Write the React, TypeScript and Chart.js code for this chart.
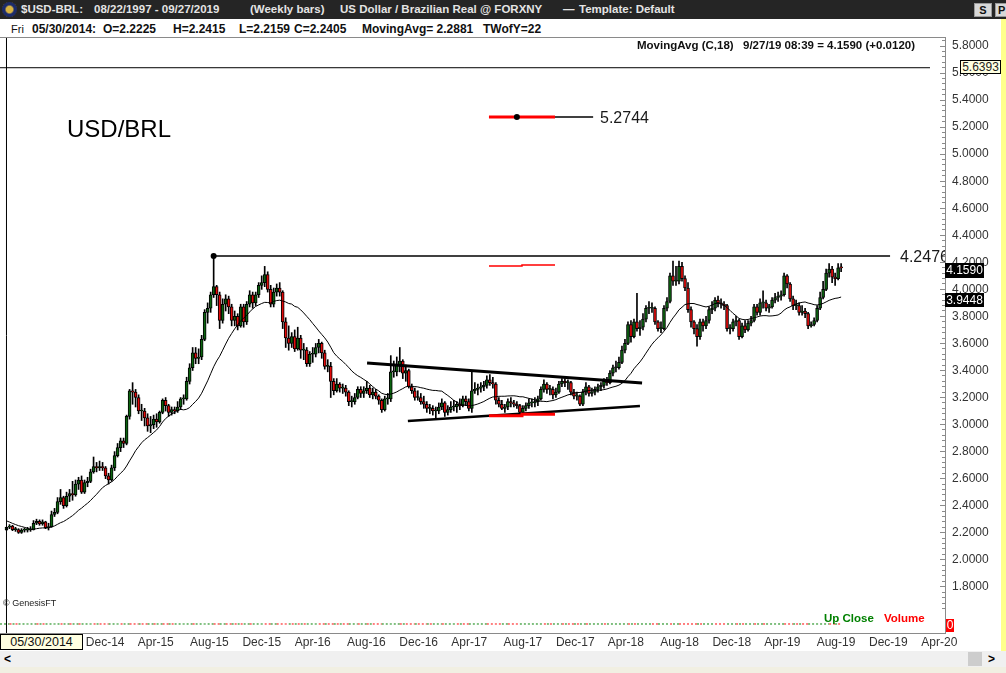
import React, { useEffect, useRef } from 'react';
import { Chart, registerables } from 'chart.js';

Chart.register(...registerables);

// ---------- Weekly bars, first bar = Fri 05/30/2014, last bar = Fri 09/27/2019 ----------
const OPEN = [
  2.2225, 2.2405, 2.2490, 2.2230, 2.2240, 2.2030, 2.2190, 2.2190, 2.2200, 2.2230,
  2.2700, 2.2850, 2.2650, 2.2800, 2.2380, 2.2450, 2.3350, 2.3500, 2.4300, 2.4600,
  2.4000, 2.4700, 2.4900, 2.4800, 2.5600, 2.5900, 2.5000, 2.5700, 2.5800, 2.6500,
  2.6900, 2.6800, 2.6900, 2.6800, 2.6200, 2.5900, 2.6800, 2.7700, 2.8300, 2.8800,
  2.8600, 3.0600, 3.2500, 3.2400, 3.2000, 3.1000, 3.1000, 3.0500, 2.9900, 3.0000,
  3.0400, 3.0200, 3.0900, 3.1800, 3.1400, 3.0900, 3.1100, 3.1000, 3.1300, 3.1900,
  3.1900, 3.3200, 3.4200, 3.5300, 3.4900, 3.5000, 3.6300, 3.8300, 3.8600, 3.9600,
  4.0200, 3.9600, 3.7700, 3.8900, 3.9300, 3.8700, 3.7700, 3.8000, 3.7300, 3.8700,
  3.7600, 3.8900, 3.9600, 3.9000, 3.9600, 4.0300, 4.0500, 4.1100, 4.0000, 3.8900,
  3.9800, 4.0100, 3.9800, 3.7600, 3.6400, 3.6000, 3.6500, 3.5600, 3.6400, 3.5500,
  3.5500, 3.4500, 3.5200, 3.5200, 3.5700, 3.6000, 3.5300, 3.4300, 3.4300, 3.3200,
  3.2500, 3.3000, 3.2700, 3.2700, 3.2400, 3.1700, 3.1700, 3.2000, 3.2600, 3.2300,
  3.2500, 3.2700, 3.2200, 3.2400, 3.2100, 3.1800, 3.1100, 3.1900, 3.1900, 3.3900,
  3.3900, 3.4400, 3.4700, 3.3800, 3.4000, 3.2800, 3.2500, 3.2000, 3.2000, 3.1700,
  3.1500, 3.1200, 3.1200, 3.1000, 3.1000, 3.1300, 3.1600, 3.0900, 3.1100, 3.1300,
  3.1300, 3.1500, 3.1400, 3.1900, 3.1700, 3.1200, 3.2500, 3.2600, 3.2700, 3.2800,
  3.2900, 3.3300, 3.3100, 3.3000, 3.1800, 3.1500, 3.1200, 3.1300, 3.1700, 3.1600,
  3.1500, 3.1400, 3.0900, 3.1200, 3.1400, 3.1600, 3.1600, 3.1700, 3.1900, 3.2600,
  3.3000, 3.2600, 3.2600, 3.2200, 3.2400, 3.3000, 3.3200, 3.3100, 3.3100, 3.2400,
  3.2100, 3.2100, 3.1500, 3.2400, 3.2800, 3.2300, 3.2400, 3.2600, 3.2800, 3.2900,
  3.3200, 3.3100, 3.3800, 3.4200, 3.4200, 3.4600, 3.5500, 3.6000, 3.7400, 3.6500,
  3.7600, 3.7100, 3.7200, 3.7800, 3.8600, 3.8600, 3.8600, 3.7600, 3.7100, 3.7100,
  3.8600, 3.9100, 4.1000, 4.0600, 4.0600, 4.1700, 4.0800, 4.0100, 3.8500, 3.7600,
  3.7100, 3.6500, 3.7600, 3.7300, 3.7700, 3.8500, 3.8600, 3.9200, 3.9000, 3.8900,
  3.8800, 3.7100, 3.7100, 3.7600, 3.7700, 3.6500, 3.7300, 3.7000, 3.7500, 3.7700,
  3.8700, 3.8300, 3.9000, 3.9000, 3.8600, 3.8700, 3.9200, 3.9400, 3.9500, 3.9600,
  4.1000, 4.0400, 3.9300, 3.8800, 3.8800, 3.8300, 3.8400, 3.8200, 3.7300, 3.7400,
  3.7700, 3.8600, 3.9400, 4.0000, 4.1200, 4.1500, 4.0900, 4.0800, 4.1600,
];

const HIGH = [
  2.2415, 2.2600, 2.2550, 2.2400, 2.2300, 2.2300, 2.2350, 2.2400, 2.2450, 2.2900,
  2.3000, 2.2950, 2.2950, 2.2850, 2.2700, 2.3600, 2.3800, 2.4600, 2.5200, 2.4700,
  2.5000, 2.5200, 2.5800, 2.5900, 2.6100, 2.6200, 2.5900, 2.6100, 2.6700, 2.7600,
  2.7200, 2.7300, 2.7200, 2.6900, 2.6400, 2.7000, 2.8000, 2.8600, 2.9000, 2.9000,
  3.0700, 3.2600, 3.3100, 3.2600, 3.2200, 3.1500, 3.1200, 3.0800, 3.0600, 3.0700,
  3.0800, 3.1000, 3.1900, 3.2000, 3.1500, 3.1300, 3.1300, 3.1700, 3.2000, 3.2200,
  3.3500, 3.4500, 3.5700, 3.5700, 3.5600, 3.6600, 3.8500, 3.9000, 3.9800, 4.2476,
  4.0300, 3.9800, 3.9300, 3.9600, 3.9500, 3.8900, 3.8400, 3.8200, 3.8900, 3.8900,
  3.9100, 3.9900, 3.9800, 3.9800, 4.0500, 4.1000, 4.1700, 4.1300, 4.0300, 4.0100,
  4.0400, 4.0500, 3.9900, 3.7900, 3.7300, 3.6800, 3.7000, 3.7200, 3.6600, 3.6000,
  3.5700, 3.5400, 3.5700, 3.6000, 3.6300, 3.6100, 3.5500, 3.4800, 3.4600, 3.3400,
  3.3400, 3.3100, 3.3000, 3.2900, 3.2500, 3.2100, 3.2300, 3.2800, 3.2800, 3.2800,
  3.3200, 3.2900, 3.2700, 3.2600, 3.2200, 3.1900, 3.2100, 3.2300, 3.5100, 3.4700,
  3.5000, 3.5700, 3.4800, 3.4400, 3.4100, 3.3000, 3.2700, 3.2500, 3.2300, 3.2100,
  3.1700, 3.1500, 3.1400, 3.1300, 3.1600, 3.1900, 3.1700, 3.1400, 3.1700, 3.1800,
  3.1700, 3.1900, 3.2100, 3.2100, 3.1900, 3.4000, 3.3100, 3.3000, 3.3100, 3.3200,
  3.3600, 3.3700, 3.3500, 3.3100, 3.2000, 3.1800, 3.1500, 3.1900, 3.2000, 3.1800,
  3.1700, 3.1500, 3.1400, 3.1600, 3.1900, 3.1900, 3.2000, 3.2100, 3.2800, 3.3300,
  3.3100, 3.2900, 3.2800, 3.2700, 3.3200, 3.3400, 3.3400, 3.3300, 3.3200, 3.2600,
  3.2400, 3.2200, 3.2600, 3.3100, 3.2900, 3.2700, 3.2800, 3.3000, 3.3100, 3.3400,
  3.3500, 3.4000, 3.4400, 3.4700, 3.5000, 3.5800, 3.6300, 3.7600, 3.7700, 3.7800,
  3.9700, 3.7700, 3.8200, 3.8800, 3.9100, 3.9000, 3.8700, 3.7700, 3.7600, 3.8800,
  3.9400, 4.1200, 4.2100, 4.1700, 4.2100, 4.2000, 4.1000, 4.0500, 3.8700, 3.7700,
  3.7400, 3.7800, 3.7800, 3.8000, 3.8700, 3.9100, 3.9400, 3.9500, 3.9300, 3.9100,
  3.8900, 3.7400, 3.7800, 3.8000, 3.7800, 3.7500, 3.7700, 3.7700, 3.8000, 3.8900,
  3.8900, 3.9300, 3.9900, 3.9200, 3.8900, 3.9400, 3.9700, 3.9800, 3.9900, 4.1200,
  4.1100, 4.0500, 3.9500, 3.9200, 3.9000, 3.8800, 3.8600, 3.8300, 3.7600, 3.7900,
  3.8800, 3.9800, 4.0600, 4.1500, 4.1900, 4.1700, 4.1200, 4.1900, 4.1900,
];

const LOW = [
  2.2159, 2.2300, 2.2150, 2.2100, 2.1950, 2.1950, 2.2050, 2.2050, 2.2100, 2.2200,
  2.2600, 2.2550, 2.2550, 2.2300, 2.2200, 2.2400, 2.3200, 2.3400, 2.4100, 2.3800,
  2.3900, 2.4300, 2.4400, 2.4700, 2.5200, 2.4900, 2.4900, 2.5400, 2.5700, 2.6400,
  2.6500, 2.6600, 2.6600, 2.6000, 2.5600, 2.5800, 2.6600, 2.7600, 2.8000, 2.8300,
  2.8500, 3.0400, 3.1500, 3.1300, 3.0800, 3.0300, 2.9900, 2.9500, 2.9400, 2.9700,
  2.9800, 3.0100, 3.0800, 3.1000, 3.0600, 3.0700, 3.0800, 3.0900, 3.1100, 3.1500,
  3.1800, 3.3000, 3.4000, 3.4500, 3.4500, 3.4800, 3.6200, 3.7500, 3.8300, 3.9400,
  3.8800, 3.7100, 3.7500, 3.8400, 3.8200, 3.7300, 3.7300, 3.7000, 3.7200, 3.7200,
  3.7400, 3.8700, 3.8600, 3.8800, 3.9400, 4.0000, 4.0200, 3.9800, 3.8700, 3.8700,
  3.9500, 3.9500, 3.7100, 3.5700, 3.5500, 3.5700, 3.5400, 3.5500, 3.4900, 3.4800,
  3.4300, 3.4300, 3.4600, 3.5000, 3.5300, 3.4900, 3.4100, 3.3900, 3.2000, 3.2200,
  3.2400, 3.2400, 3.2300, 3.2100, 3.1400, 3.1300, 3.1500, 3.1900, 3.2000, 3.2000,
  3.2300, 3.2000, 3.1900, 3.1900, 3.1500, 3.0900, 3.1000, 3.1500, 3.1700, 3.3500,
  3.3600, 3.3900, 3.3400, 3.3200, 3.2700, 3.2300, 3.1800, 3.1800, 3.1500, 3.1200,
  3.0900, 3.0800, 3.0700, 3.0500, 3.0800, 3.1100, 3.0600, 3.0700, 3.0900, 3.1000,
  3.0900, 3.1100, 3.1300, 3.1400, 3.1000, 3.0900, 3.2300, 3.2200, 3.2400, 3.2500,
  3.2700, 3.2900, 3.2700, 3.1500, 3.1300, 3.1100, 3.0900, 3.1100, 3.1300, 3.1300,
  3.1200, 3.0600, 3.0800, 3.1000, 3.1200, 3.1300, 3.1300, 3.1400, 3.1800, 3.2400,
  3.2300, 3.2200, 3.1900, 3.2000, 3.2300, 3.2800, 3.2800, 3.2600, 3.2200, 3.1900,
  3.1800, 3.1400, 3.1400, 3.2200, 3.2100, 3.2100, 3.2200, 3.2400, 3.2500, 3.2700,
  3.2900, 3.3000, 3.3600, 3.3900, 3.4100, 3.4500, 3.5300, 3.5900, 3.6100, 3.6400,
  3.6900, 3.6600, 3.7000, 3.7600, 3.8200, 3.8300, 3.7400, 3.6900, 3.6800, 3.7000,
  3.8400, 3.9000, 4.0300, 4.0300, 4.0400, 4.0600, 3.9900, 3.8300, 3.7200, 3.6700,
  3.5800, 3.6300, 3.6900, 3.7100, 3.7500, 3.8200, 3.8400, 3.8700, 3.8600, 3.8500,
  3.6900, 3.6700, 3.6900, 3.7300, 3.6300, 3.6400, 3.6800, 3.6900, 3.7300, 3.7600,
  3.8100, 3.8100, 3.8600, 3.8400, 3.8300, 3.8600, 3.9000, 3.9100, 3.9200, 3.9500,
  4.0100, 3.9100, 3.8500, 3.8500, 3.8100, 3.8100, 3.7900, 3.7100, 3.7200, 3.7300,
  3.7600, 3.8500, 3.9300, 3.9900, 4.0900, 4.0500, 4.0300, 4.0700, 4.1300,
];

const CLOSE = [
  2.2405, 2.2490, 2.2230, 2.2240, 2.2030, 2.2190, 2.2190, 2.2200, 2.2230, 2.2700,
  2.2850, 2.2650, 2.2800, 2.2380, 2.2450, 2.3350, 2.3500, 2.4300, 2.4600, 2.4000,
  2.4700, 2.4900, 2.4800, 2.5600, 2.5900, 2.5000, 2.5700, 2.5800, 2.6500, 2.6900,
  2.6800, 2.6900, 2.6800, 2.6200, 2.5900, 2.6800, 2.7700, 2.8300, 2.8800, 2.8600,
  3.0600, 3.2500, 3.2400, 3.2000, 3.1000, 3.1000, 3.0500, 2.9900, 3.0000, 3.0400,
  3.0200, 3.0900, 3.1800, 3.1400, 3.0900, 3.1100, 3.1000, 3.1300, 3.1900, 3.1900,
  3.3200, 3.4200, 3.5300, 3.4900, 3.5000, 3.6300, 3.8300, 3.8600, 3.9600, 4.0200,
  3.9600, 3.7700, 3.8900, 3.9300, 3.8700, 3.7700, 3.8000, 3.7300, 3.8700, 3.7600,
  3.8900, 3.9600, 3.9000, 3.9600, 4.0300, 4.0500, 4.1100, 4.0000, 3.8900, 3.9800,
  4.0100, 3.9800, 3.7600, 3.6400, 3.6000, 3.6500, 3.5600, 3.6400, 3.5500, 3.5500,
  3.4500, 3.5200, 3.5200, 3.5700, 3.6000, 3.5300, 3.4300, 3.4300, 3.3200, 3.2500,
  3.3000, 3.2700, 3.2700, 3.2400, 3.1700, 3.1700, 3.2000, 3.2600, 3.2300, 3.2500,
  3.2700, 3.2200, 3.2400, 3.2100, 3.1800, 3.1100, 3.1900, 3.1900, 3.3900, 3.3900,
  3.4400, 3.4700, 3.3800, 3.4000, 3.2800, 3.2500, 3.2000, 3.2000, 3.1700, 3.1500,
  3.1200, 3.1200, 3.1000, 3.1000, 3.1300, 3.1600, 3.0900, 3.1100, 3.1300, 3.1300,
  3.1500, 3.1400, 3.1900, 3.1700, 3.1200, 3.2500, 3.2600, 3.2700, 3.2800, 3.2900,
  3.3300, 3.3100, 3.3000, 3.1800, 3.1500, 3.1200, 3.1300, 3.1700, 3.1600, 3.1500,
  3.1400, 3.0900, 3.1200, 3.1400, 3.1600, 3.1600, 3.1700, 3.1900, 3.2600, 3.3000,
  3.2600, 3.2600, 3.2200, 3.2400, 3.3000, 3.3200, 3.3100, 3.3100, 3.2400, 3.2100,
  3.2100, 3.1500, 3.2400, 3.2800, 3.2300, 3.2400, 3.2600, 3.2800, 3.2900, 3.3200,
  3.3100, 3.3800, 3.4200, 3.4200, 3.4600, 3.5500, 3.6000, 3.7400, 3.6500, 3.7600,
  3.7100, 3.7200, 3.7800, 3.8600, 3.8600, 3.8600, 3.7600, 3.7100, 3.7100, 3.8600,
  3.9100, 4.1000, 4.0600, 4.0600, 4.1700, 4.0800, 4.0100, 3.8500, 3.7600, 3.7100,
  3.6500, 3.7600, 3.7300, 3.7700, 3.8500, 3.8600, 3.9200, 3.9000, 3.8900, 3.8800,
  3.7100, 3.7100, 3.7600, 3.7700, 3.6500, 3.7300, 3.7000, 3.7500, 3.7700, 3.8700,
  3.8300, 3.9000, 3.9000, 3.8600, 3.8700, 3.9200, 3.9400, 3.9500, 3.9600, 4.1000,
  4.0400, 3.9300, 3.8800, 3.8800, 3.8300, 3.8400, 3.8200, 3.7300, 3.7400, 3.7700,
  3.8600, 3.9400, 4.0000, 4.1200, 4.1500, 4.0900, 4.0800, 4.1600, 4.1590,
];

// 17 weekly closes before the first visible bar (needed by MovingAvg(C,18))
const PRE_CLOSES = [
  2.4100, 2.4000, 2.3800, 2.3500, 2.3300, 2.3300, 2.3600, 2.3200, 2.2700,
  2.2300, 2.2000, 2.2400, 2.2400, 2.2300, 2.2200, 2.2100, 2.2200,
];
const MA_PERIOD = 18;
const VOLUME_LEVEL = 0; // volume panel reads 0 for every bar

// drawn objects, [week index, price]
const PEAK_LINE = [[69, 4.2476], [294.3, 4.2476]];
const TARGET_BLACK = [[170, 5.2744], [195.4, 5.2744]];
const TARGET_RED = [[160.7, 5.2744], [182.7, 5.2744]];
const TARGET_DOT = [[170, 5.2744]];
const RED_UPPER = [[160.7, 4.173], [171.7, 4.173], [171.7, 4.180], [182.7, 4.180]];
const RED_LOWER = [[160.7, 3.066], [171.7, 3.066], [171.7, 3.076], [182.7, 3.076]];
const TRI_UPPER = [[120.1, 3.455], [211.7, 3.307]];
const TRI_LOWER = [[133.7, 3.026], [211.0, 3.137]];
const CURSOR_PRICE = 5.6393;
const CURSOR_WEEK = 0;
const CURSOR_LINE_END = 307.6;

// axes
const X_MIN = -2.165;
const X_MAX = 312.6;
const Y_MIN = 1.4583;
const Y_MAX = 5.8592;
const X_TICK_LABELS = ['Dec-14', 'Apr-15', 'Aug-15', 'Dec-15', 'Apr-16', 'Aug-16', 'Dec-16', 'Apr-17', 'Aug-17', 'Dec-17', 'Apr-18', 'Aug-18', 'Dec-18', 'Apr-19', 'Aug-19', 'Dec-19', 'Apr-20'];
const Y_TICK_LABELS = ['1.8000', '2.0000', '2.2000', '2.4000', '2.6000', '2.8000', '3.0000', '3.2000', '3.4000', '3.6000', '3.8000', '4.0000', '4.2000', '4.4000', '4.6000', '4.8000', '5.0000', '5.2000', '5.4000', '5.6000', '5.8000'];
const Y_MINOR_STEP = 0.04;
const Y_MINOR_FROM = 1.64;

const MONTHS = ['Jan', 'Feb', 'Mar', 'Apr', 'May', 'Jun', 'Jul', 'Aug', 'Sep', 'Oct', 'Nov', 'Dec'];
const FIRST_BAR_UTC = Date.UTC(2014, 4, 30);
const WEEK_MS = 7 * 86400000;
const labelToWeek = (s: string) => {
  const [m, y] = s.split('-');
  return (Date.UTC(2000 + Number(y), MONTHS.indexOf(m), 1) - FIRST_BAR_UTC) / WEEK_MS;
};

const FONT = "'Liberation Sans', Arial, Helvetica, sans-serif";
const UP = '#0b630f';
const DOWN = '#e20a0a';

export default function App() {
  const ref = useRef<HTMLCanvasElement | null>(null);

  useEffect(() => {
    document.body.style.margin = '0';
    const canvas = ref.current;
    if (!canvas) return;

    const all = [...PRE_CLOSES, ...CLOSE];
    const ma = CLOSE.map((_, i) => {
      let s = 0;
      for (let k = 0; k < MA_PERIOD; k++) s += all[i + PRE_CLOSES.length - k];
      return { x: i, y: s / MA_PERIOD };
    });
    const pts = (a: number[][]) => a.map(([x, y]) => ({ x, y }));
    const isUp = (i: number) => CLOSE[i] >= OPEN[i];
    const line = (data: any[], color: string, width: number, extra: any = {}) => ({
      type: 'line', data, borderColor: color, borderWidth: width, pointRadius: 0,
      tension: 0, fill: false, xAxisID: 'x', yAxisID: 'y', order: 0, ...extra,
    });

    const volData = [{ x: X_MIN, y: VOLUME_LEVEL }, ...CLOSE.map((_, i) => ({ x: i, y: VOLUME_LEVEL }))];

    const chart = new Chart(canvas, {
      type: 'bar',
      data: {
        datasets: [
          line([{ x: X_MIN, y: CURSOR_PRICE }, { x: CURSOR_LINE_END, y: CURSOR_PRICE }], '#000', 1),
          line([{ x: CURSOR_WEEK, y: Y_MIN }, { x: CURSOR_WEEK, y: Y_MAX }], '#000', 1),
          line(pts(TARGET_DOT), '#000', 1, { pointRadius: 3, pointBackgroundColor: '#000', pointBorderWidth: 0, showLine: false }),
          line(pts(TARGET_RED), '#ff0000', 3),
          line(pts(TARGET_BLACK), '#000', 1.5),
          line(pts(PEAK_LINE), '#000', 1.5, { pointRadius: [3, 0], pointBackgroundColor: '#000', pointBorderWidth: 0 }),
          line(pts(RED_UPPER), '#ff0000', 1.5),
          line(pts(RED_LOWER), '#ff0000', 3),
          line(pts(TRI_UPPER), '#000', 3),
          line(pts(TRI_LOWER), '#000', 2.5),
          line(ma, '#000', 1, { order: 1 }),
          {
            type: 'bar', order: 2, grouped: false, xAxisID: 'x', yAxisID: 'y',
            data: CLOSE.map((c, i) => ({ x: i, y: [OPEN[i], c] })),
            backgroundColor: CLOSE.map((_, i) => (isUp(i) ? UP : DOWN)),
            borderColor: '#000', borderWidth: 1, borderSkipped: false,
            barThickness: 3, minBarLength: 1,
          },
          {
            type: 'bar', order: 3, grouped: false, xAxisID: 'x', yAxisID: 'y',
            data: CLOSE.map((_, i) => ({ x: i, y: [LOW[i], HIGH[i]] })),
            backgroundColor: '#000', borderWidth: 0, barThickness: 1,
          },
          {
            type: 'line', order: 4, xAxisID: 'x', yAxisID: 'yVol', data: volData,
            borderWidth: 1, borderDash: [2, 2], pointRadius: 0, tension: 0,
            borderColor: UP,
            segment: { borderColor: (ctx: any) => (isUp(Math.max(0, ctx.p1DataIndex - 1)) ? '#008000' : '#ff0000') },
          },
        ] as any,
      },
      options: {
        animation: false,
        responsive: false,
        maintainAspectRatio: false,
        layout: { padding: 0, autoPadding: false },
        events: [],
        plugins: { legend: { display: false }, tooltip: { enabled: false }, title: { display: false } },
        scales: {
          x: {
            type: 'linear', position: 'bottom', min: X_MIN, max: X_MAX, offset: false, bounds: 'data',
            grid: { display: false, drawTicks: false, tickLength: 0 },
            border: { display: true, color: '#8a8a8a', width: 1 },
            ticks: {
              autoSkip: false, maxRotation: 0, minRotation: 0, align: 'start', padding: 2,
              color: '#333333', font: { family: FONT, size: 12 },
              callback: (_v: any, i: number) => X_TICK_LABELS[i],
            },
            afterBuildTicks: (s: any) => { s.ticks = X_TICK_LABELS.map((l) => ({ value: labelToWeek(l) })); },
            afterFit: (s: any) => { s.height = 20; s.paddingLeft = 0; s.paddingRight = 0; },
          },
          yMinor: {
            type: 'linear', position: 'right', weight: 0, min: Y_MIN, max: Y_MAX, bounds: 'data',
            grid: { display: true, drawOnChartArea: false, drawTicks: true, tickLength: -3, tickColor: '#8a8a8a', tickWidth: 1 },
            border: { display: true, color: '#8a8a8a', width: 1 },
            ticks: { display: false },
            afterBuildTicks: (s: any) => {
              const t: any[] = [];
              for (let v = Y_MINOR_FROM; v < Y_MAX; v += Y_MINOR_STEP) t.push({ value: v });
              s.ticks = t;
            },
            afterFit: (s: any) => { s.width = 0; s.paddingTop = 0; s.paddingBottom = 0; },
          },
          y: {
            type: 'linear', position: 'right', weight: 1, min: Y_MIN, max: Y_MAX, bounds: 'data',
            grid: { display: true, drawOnChartArea: false, drawTicks: true, tickLength: -5, tickColor: '#8a8a8a', tickWidth: 1 },
            border: { display: true, color: '#8a8a8a', width: 1 },
            ticks: {
              autoSkip: false, padding: 12, color: '#333333', font: { family: FONT, size: 12 },
              callback: (_v: any, i: number) => Y_TICK_LABELS[i],
            },
            afterBuildTicks: (s: any) => { s.ticks = Y_TICK_LABELS.map((l) => ({ value: parseFloat(l) })); },
            afterFit: (s: any) => { s.width = 55; s.paddingTop = 0; s.paddingBottom = 0; },
          },
          yVol: { type: 'linear', display: false, min: -1, max: 65 },
        },
      } as any,
    });
    return () => chart.destroy();
  }, []);

  const abs = (left: number, top: number, extra: any = {}): React.CSSProperties => ({
    position: 'absolute', left, top, whiteSpace: 'pre', ...extra,
  });
  const titleFont = { fontFamily: FONT, fontWeight: 'bold', fontSize: 11.5, lineHeight: '14px', color: '#e4e4e4' };
  const infoFont = { fontFamily: FONT, fontWeight: 'bold', fontSize: 12, lineHeight: '14px', color: '#101010' };

  return (
    <div style={{ position: 'fixed', left: 0, top: 0, width: 1006, height: 673, overflow: 'hidden', background: '#ffffff', fontFamily: FONT }}>
      {/* title bar */}
      <div style={abs(0, 0, { width: 1006, height: 19, background: '#252525' })} />
      <div style={abs(2, 2, { width: 15, height: 15, borderRadius: 8, background: 'radial-gradient(circle, #d9b441 0 30%, #1d2c6b 45% 70%, #caa43a 75%)' })} />
      <div style={abs(21, 2, titleFont)}>$USD-BRL:</div>
      <div style={abs(94, 2, titleFont)}>08/22/1997 - 09/27/2019</div>
      <div style={abs(250, 2, titleFont)}>(Weekly bars)</div>
      <div style={abs(340, 2, titleFont)}>US Dollar / Brazilian Real @ FORXNY</div>
      <div style={abs(563, 2, titleFont)}>—</div>
      <div style={abs(579, 2, titleFont)}>Template: Default</div>
      <div style={abs(974, 3, { width: 18, height: 14, background: '#d8d8d8', border: '1px solid #9a9a9a', boxSizing: 'border-box', fontSize: 11, fontWeight: 'bold', lineHeight: '12px', textAlign: 'center', color: '#111' })}>S</div>
      <div style={abs(995, 3, { width: 13, height: 14, background: '#d8d8d8', border: '1px solid #9a9a9a', boxSizing: 'border-box', fontSize: 11, fontWeight: 'bold', lineHeight: '12px', paddingLeft: 2, color: '#111' })}>P</div>

      {/* info line */}
      <div style={abs(11, 22, { ...infoFont, fontWeight: 'normal', fontSize: 11 })}>Fri</div>
      <div style={abs(32, 22, infoFont)}>05/30/2014:</div>
      <div style={abs(103, 22, infoFont)}>O=2.2225</div>
      <div style={abs(173, 22, infoFont)}>H=2.2415</div>
      <div style={abs(239, 22, infoFont)}>L=2.2159</div>
      <div style={abs(294, 22, infoFont)}>C=2.2405</div>
      <div style={abs(362, 22, infoFont)}>MovingAvg= 2.2881</div>
      <div style={abs(483, 22, infoFont)}>TWofY=22</div>

      {/* chart panel top border */}
      <div style={abs(0, 37, { width: 946, height: 1, background: '#8a8a8a' })} />

      <canvas ref={ref} width={1000} height={615} style={{ position: 'absolute', left: 0, top: 38, width: 1000, height: 615 }} />

      <div style={abs(637, 38, { ...infoFont, fontSize: 11.5 })}>MovingAvg (C,18)</div>
      <div style={abs(743, 38, { ...infoFont, fontSize: 11.5 })}>9/27/19 08:39 = 4.1590 (+0.0120)</div>

      <div style={abs(67, 116.7, { fontSize: 24, lineHeight: '24px', color: '#000' })}>USD/BRL</div>
      <div style={abs(600, 109.5, { fontSize: 16, lineHeight: '16px', color: '#1a1a1a' })}>5.2744</div>
      <div style={abs(900, 248.5, { width: 45, overflow: 'hidden', fontSize: 16, lineHeight: '16px', color: '#1a1a1a' })}>4.2476</div>
      <div style={abs(3, 599, { fontSize: 9, lineHeight: '9px', color: '#222' })}>© GenesisFT</div>
      <div style={abs(824, 613, { fontSize: 11.5, fontWeight: 'bold', lineHeight: '11.5px', color: '#008000' })}>Up Close</div>
      <div style={abs(884, 613, { fontSize: 11.5, fontWeight: 'bold', lineHeight: '11.5px', color: '#ff0000' })}>Volume</div>

      {/* price tags on the axis */}
      <div style={abs(960, 60, { width: 41, height: 14, boxSizing: 'border-box', border: '1px solid #000', background: '#ffffe1', fontSize: 12, lineHeight: '12px', textAlign: 'center', color: '#222' })}>5.6393</div>
      <div style={abs(945, 263, { width: 39, height: 15, background: '#000', color: '#fff', fontSize: 12, lineHeight: '15px', textAlign: 'center' })}>4.1590</div>
      <div style={abs(945, 293, { width: 39, height: 14, background: '#000', color: '#fff', fontSize: 12, lineHeight: '14px', textAlign: 'center' })}>3.9448</div>
      <div style={abs(946, 619, { width: 8, height: 13, background: '#ff0000', color: '#fff', fontSize: 12, lineHeight: '13px', textAlign: 'center' })}>0</div>

      {/* cursor date tag */}
      <div style={abs(0, 634, { width: 83, height: 16, boxSizing: 'border-box', border: '1px solid #000', background: '#ffffe1', fontSize: 12.5, lineHeight: '14px', textAlign: 'center', color: '#111' })}>05/30/2014</div>

      {/* right yellow strip */}
      <div style={abs(1001, 19, { width: 5, height: 632, background: '#ffff8c' })} />

      {/* scroll bar */}
      <div style={abs(0, 651, { width: 1006, height: 16, background: '#f0f0f0' })} />
      <div style={abs(4, 651, { fontSize: 12, fontWeight: 'bold', lineHeight: '16px', color: '#000' })}>&lt;</div>
      <div style={abs(968, 652, { width: 14, height: 14, background: '#cdcdcd' })} />
      <div style={abs(988, 651, { fontSize: 12, fontWeight: 'bold', lineHeight: '16px', color: '#000' })}>&gt;</div>
      <div style={abs(0, 667, { width: 1006, height: 6, background: '#f1efe2' })} />
    </div>
  );
}
